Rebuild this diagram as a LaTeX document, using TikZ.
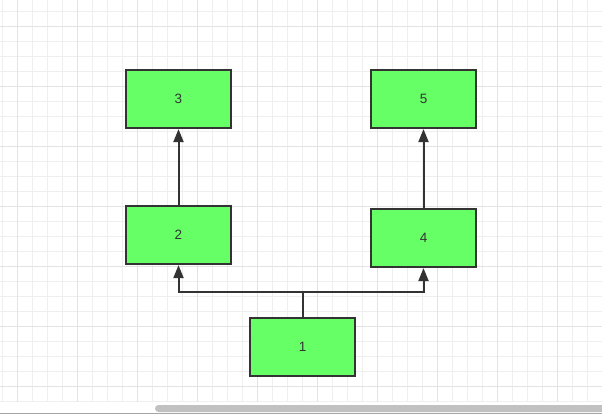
\documentclass[tikz,border=0pt]{standalone}
\usepackage{fontspec}
\setmainfont{Liberation Sans}
\usetikzlibrary{arrows.meta}
\definecolor{minorgrid}{HTML}{EFEFEF}
\definecolor{majorgrid}{HTML}{E3E3E3}
\definecolor{boxgreen}{HTML}{66FF66}
\definecolor{ink}{HTML}{333333}
\definecolor{scroll}{HTML}{C1C1C1}
\tikzset{
  box/.style={draw=ink, fill=boxgreen, line width=2.2pt, minimum width=105pt, minimum height=58pt, inner sep=0pt, font=\fontsize{13.5}{15}\selectfont, text=ink},
  arr/.style={draw=ink, line width=2pt, -{Triangle[length=13pt,width=10pt]}},
  conn/.style={draw=ink, line width=2pt},
}
\begin{document}
\begin{tikzpicture}[x=1pt,y=-1pt]
\useasboundingbox (0,0) rectangle (602,414);
\fill[white] (0,0) rectangle (602,414);
% grid
\foreach \i in {0,...,40} {
  \draw[minorgrid, line width=1pt] ({2.3+15*\i},0) -- ({2.3+15*\i},402);
}
\foreach \i in {0,...,26} {
  \draw[minorgrid, line width=1pt] (0,{11.7+15*\i}) -- (602,{11.7+15*\i});
}
\foreach \i in {0,...,9} {
  \draw[majorgrid, line width=1pt] ({17.3+60*\i},0) -- ({17.3+60*\i},402);
}
\foreach \i in {0,...,6} {
  \draw[majorgrid, line width=1pt] (0,{26.7+60*\i}) -- (602,{26.7+60*\i});
}
% scrollbar
\fill[scroll, rounded corners=3.5pt] (155,405) rectangle (610,412);
\fill[gray!70] (0,413) rectangle (602,414);
% nodes
\node[box] (n3) at (178.5,99) {3};
\node[box] (n5) at (423.5,99) {5};
\node[box] (n2) at (178.5,235) {2};
\node[box] (n4) at (423.5,238) {4};
\node[box] (n1) at (302.5,347) {1};
\coordinate (j) at (302.5,292);
% connectors
\draw[arr] (n2.north) -- (n3.south);
\draw[arr] (n4.north) -- (n5.south);
\draw[conn] (n1.north) -- (j);
\draw[arr] (j) -| (n2.south);
\draw[arr] (j) -| (n4.south);
\end{tikzpicture}
\end{document}
